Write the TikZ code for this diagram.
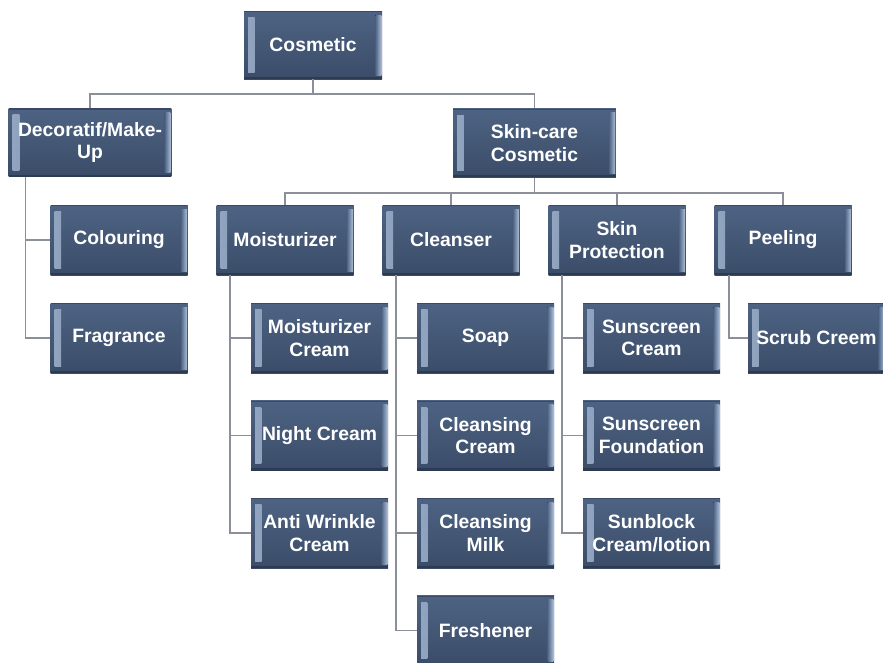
\documentclass[tikz,border=0pt]{standalone}
\usepackage{fontspec}
\setmainfont{Liberation Sans}
\usetikzlibrary{calc}
\definecolor{boxtop}{RGB}{78,99,131}
\definecolor{boxbot}{RGB}{58,76,104}
\definecolor{bevlight}{RGB}{170,188,214}
\definecolor{bevdark}{RGB}{44,58,82}
\definecolor{connc}{RGB}{138,143,153}
\tikzset{
  box/.style={rectangle, inner sep=0pt, minimum width=102.75pt, minimum height=52.5pt,
    top color=boxtop, bottom color=boxbot, text=white, align=center,
    font=\fontsize{14.5}{17}\selectfont\bfseries,
    path picture={
      \fill[left color=bevlight!75!boxtop, right color=boxtop]
        ($(path picture bounding box.north west)+(3pt,-5pt)$) rectangle
        ($(path picture bounding box.south west)+(8pt,5pt)$);
      \fill[left color=boxtop, right color=bevlight]
        ($(path picture bounding box.north east)+(-5pt,-3pt)$) rectangle
        ($(path picture bounding box.south east)+(-0.5pt,3pt)$);
      \fill[bevdark]
        (path picture bounding box.south west) rectangle
        ($(path picture bounding box.south east)+(0,1.6pt)$);
      \fill[bevdark!60!boxtop]
        (path picture bounding box.north west) rectangle
        ($(path picture bounding box.north east)+(0,-1pt)$);
    }},
  widebox/.style={box, minimum width=122pt, minimum height=51.5pt},
  conn/.style={draw=connc, line width=1.2pt}
}
\begin{document}
\begin{tikzpicture}[x=0.75pt,y=-0.75pt]
\useasboundingbox (0,0) rectangle (883,662);
% top
\node[box, minimum width=103.5pt, minimum height=51pt] (cos) at (313,45) {Cosmetic};
\node[widebox] (deco) at (90,142.5) {Decoratif/Make-\\Up};
\node[widebox] (skin) at (534.5,143) {Skin-care\\Cosmetic};
% row 1
\node[box] (colour) at (119,240) {Colouring};
\node[box] (moist) at (285,240) {Moisturizer};
\node[box] (clean) at (451,240) {Cleanser};
\node[box] (prot) at (617,240) {Skin\\Protection};
\node[box] (peel) at (783,240) {Peeling};
% row 2
\node[box] (frag) at (119,338) {Fragrance};
\node[box] (mc) at (319.5,338) {Moisturizer\\Cream};
\node[box] (soap) at (485.5,338) {Soap};
\node[box] (sc) at (651.5,338) {Sunscreen\\Cream};
\node[box] (scrub) at (816.5,338) {Scrub Creem};
% row 3
\node[box] (night) at (319.5,435.5) {Night Cream};
\node[box] (ccream) at (485.5,435.5) {Cleansing\\Cream};
\node[box] (sf) at (651.5,435.5) {Sunscreen\\Foundation};
% row 4
\node[box] (anti) at (319.5,533) {Anti Wrinkle\\Cream};
\node[box] (cmilk) at (485.5,533) {Cleansing\\Milk};
\node[box] (sb) at (651.5,533) {Sunblock\\Cream/lotion};
% row 5
\node[box] (fresh) at (485.5,630.5) {Freshener};
% bus coordinates
\coordinate (bus1) at (0,94);
\coordinate (bus2) at (0,193);
% connectors top
\draw[conn] (cos.south) -- (cos.south |- bus1) -| (deco.north);
\draw[conn] (cos.south |- bus1) -| (skin.north);
\draw[conn] (skin.south) -- (skin.south |- bus2) -| (moist.north);
\draw[conn] (skin.south |- bus2) -| (clean.north);
\draw[conn] (skin.south |- bus2) -| (prot.north);
\draw[conn] (skin.south |- bus2) -| (peel.north);
% children
\draw[conn] ($(deco.south west)+(17,0)$) |- (colour.west);
\draw[conn] ($(deco.south west)+(17,0)$) |- (frag.west);
\draw[conn] ($(moist.south west)+(14,0)$) |- (mc.west);
\draw[conn] ($(moist.south west)+(14,0)$) |- (night.west);
\draw[conn] ($(moist.south west)+(14,0)$) |- (anti.west);
\draw[conn] ($(clean.south west)+(14,0)$) |- (soap.west);
\draw[conn] ($(clean.south west)+(14,0)$) |- (ccream.west);
\draw[conn] ($(clean.south west)+(14,0)$) |- (cmilk.west);
\draw[conn] ($(clean.south west)+(14,0)$) |- (fresh.west);
\draw[conn] ($(prot.south west)+(14,0)$) |- (sc.west);
\draw[conn] ($(prot.south west)+(14,0)$) |- (sf.west);
\draw[conn] ($(prot.south west)+(14,0)$) |- (sb.west);
\draw[conn] ($(peel.south west)+(15,0)$) |- (scrub.west);
\end{tikzpicture}
\end{document}
